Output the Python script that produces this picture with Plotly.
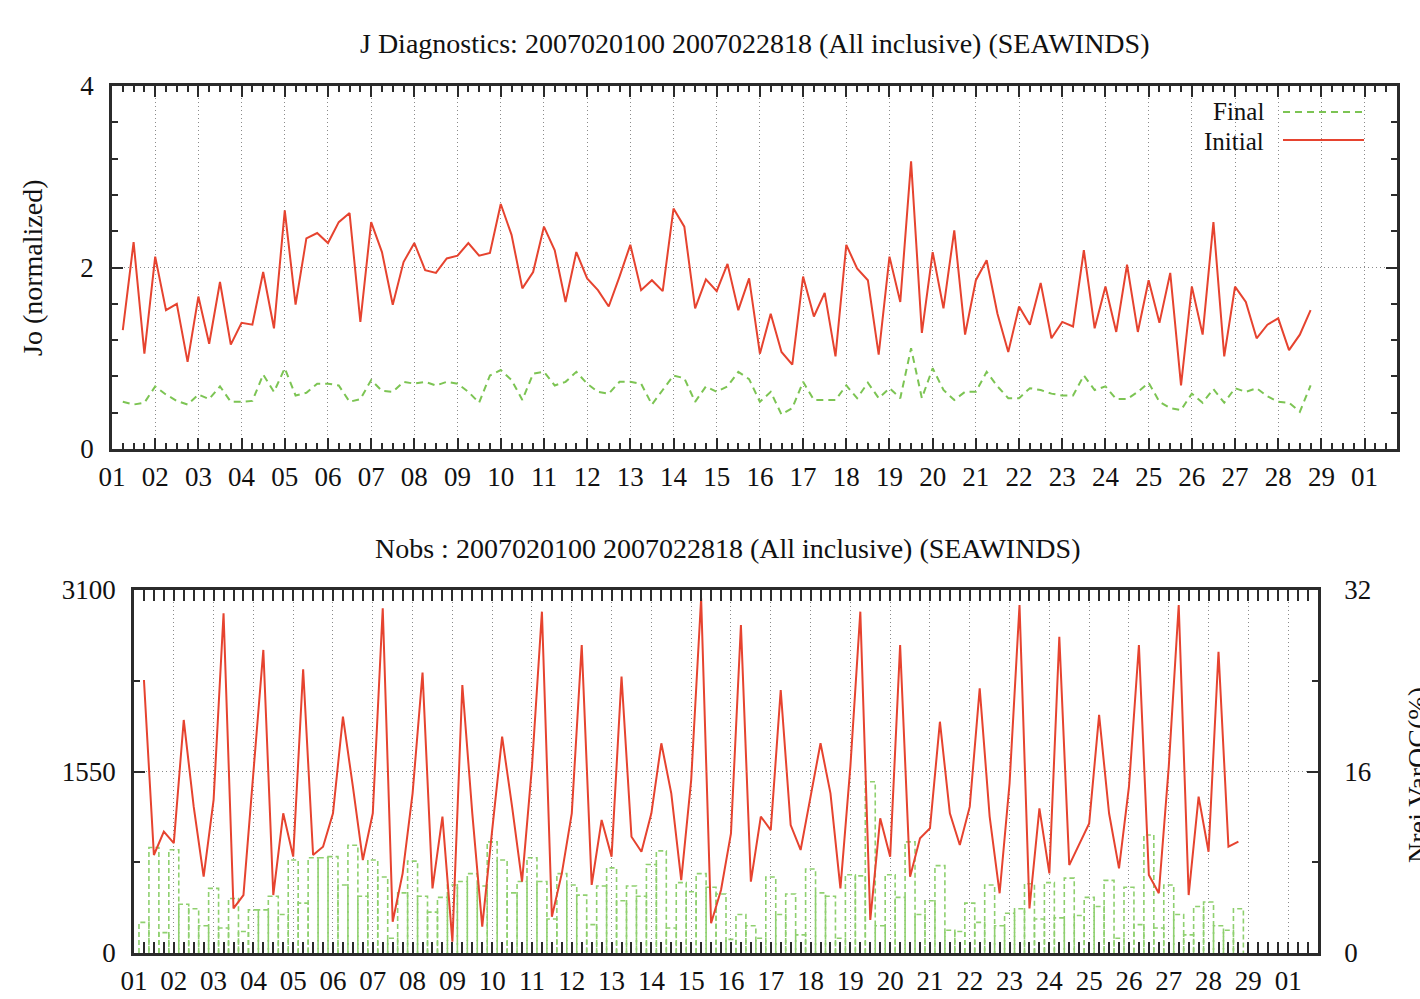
import numpy as np
import plotly.graph_objects as go

# ---------------- data ----------------
day_labels = ['01', '02', '03', '04', '05', '06', '07', '08', '09', '10',
              '11', '12', '13', '14', '15', '16', '17', '18', '19', '20',
              '21', '22', '23', '24', '25', '26', '27', '28', '29', '01']

# Jo (normalized), 6-hourly
initial = [1.31, 2.28, 1.05, 2.12, 1.53, 1.60, 0.96, 1.68, 1.16, 1.84,
           1.15, 1.39, 1.37, 1.95, 1.33, 2.63, 1.59, 2.32, 2.38, 2.27,
           2.50, 2.60, 1.40, 2.50, 2.17, 1.59, 2.06, 2.27, 1.97, 1.94,
           2.10, 2.13, 2.27, 2.13, 2.16, 2.70, 2.36, 1.77, 1.95, 2.45,
           2.19, 1.62, 2.17, 1.88, 1.75, 1.57, 1.90, 2.25, 1.75, 1.86,
           1.74, 2.65, 2.45, 1.55, 1.87, 1.74, 2.04, 1.53, 1.88, 1.05,
           1.49, 1.07, 0.93, 1.90, 1.46, 1.72, 1.02, 2.25, 1.99, 1.86,
           1.04, 2.12, 1.62, 3.17, 1.28, 2.17, 1.55, 2.41, 1.26, 1.86,
           2.08, 1.49, 1.07, 1.57, 1.37, 1.83, 1.22, 1.40, 1.35, 2.19,
           1.33, 1.79, 1.29, 2.03, 1.29, 1.86, 1.39, 1.94, 0.70, 1.79,
           1.26, 2.50, 1.02, 1.79, 1.62, 1.22, 1.37, 1.44, 1.09, 1.26, 1.53]

final = [0.52, 0.49, 0.51, 0.69, 0.60, 0.53, 0.49, 0.60, 0.55, 0.69,
         0.52, 0.52, 0.53, 0.82, 0.63, 0.89, 0.59, 0.62, 0.72, 0.72,
         0.70, 0.52, 0.55, 0.76, 0.64, 0.63, 0.74, 0.72, 0.74, 0.70,
         0.74, 0.72, 0.63, 0.51, 0.81, 0.87, 0.76, 0.54, 0.83, 0.85,
         0.70, 0.74, 0.85, 0.72, 0.63, 0.61, 0.74, 0.74, 0.72, 0.49,
         0.65, 0.81, 0.78, 0.52, 0.69, 0.63, 0.69, 0.85, 0.77, 0.52,
         0.63, 0.38, 0.45, 0.74, 0.54, 0.54, 0.54, 0.70, 0.56, 0.73,
         0.56, 0.67, 0.56, 1.11, 0.56, 0.89, 0.65, 0.54, 0.63, 0.63,
         0.85, 0.69, 0.56, 0.56, 0.67, 0.65, 0.61, 0.59, 0.59, 0.81,
         0.65, 0.69, 0.55, 0.55, 0.63, 0.73, 0.52, 0.45, 0.43, 0.61,
         0.51, 0.66, 0.51, 0.67, 0.63, 0.67, 0.58, 0.52, 0.51, 0.41, 0.70]

# Number of observations, 6-hourly
nobs = [2331, 837, 1036, 939, 1990, 1250, 652, 1307, 2901, 381,
        495, 1506, 2588, 495, 1193, 823, 2423, 837, 908, 1193,
        2018, 1420, 794, 1193, 2944, 267, 680, 1364, 2394, 552,
        1165, 97, 2289, 1193, 225, 1050, 1847, 1250, 609, 1591,
        2915, 310, 680, 1193, 2630, 581, 1136, 823, 2360, 993,
        865, 1193, 1791, 1364, 623, 1477, 3029, 254, 538, 1022,
        2801, 609, 1165, 1050, 2246, 1093, 880, 1335, 1791, 1364,
        552, 1591, 2915, 282, 1150, 823, 2630, 652, 979, 1065,
        1975, 1193, 922, 1250, 2260, 1165, 510, 1449, 2972, 381,
        1235, 680, 2701, 751, 922, 1107, 2033, 1193, 723, 1420,
        2630, 666, 510, 1591, 2972, 495, 1335, 865, 2573, 908, 951]

# Rejected by VarQC (%), 6-hourly
nrej_pct = [2.7, 9.3, 1.8, 9.1, 4.3, 3.9, 2.4, 5.7, 2.2, 4.8,
            1.9, 3.8, 3.8, 5.0, 3.4, 8.2, 4.4, 8.4, 8.4, 8.5,
            6.0, 9.5, 5.0, 8.2, 6.7, 1.3, 5.3, 8.1, 5.0, 3.6,
            4.9, 6.0, 6.3, 7.0, 5.9, 9.8, 8.2, 5.3, 6.3, 8.4,
            6.3, 3.0, 7.0, 6.0, 5.1, 2.5, 5.9, 7.5, 4.6, 5.9,
            5.0, 7.8, 9.0, 2.2, 6.2, 5.4, 7.0, 5.8, 5.2, 1.2,
            3.4, 2.4, 1.3, 6.7, 3.4, 5.2, 1.6, 7.4, 5.3, 5.0,
            1.3, 6.9, 6.8, 15.1, 2.4, 6.9, 4.9, 9.8, 3.4, 4.6,
            7.7, 2.0, 1.9, 4.4, 2.7, 6.0, 2.4, 3.5, 3.9, 6.1,
            3.0, 6.2, 3.1, 6.6, 3.3, 4.9, 4.1, 6.4, 1.3, 5.8,
            2.5, 10.4, 2.2, 6.0, 3.4, 1.6, 4.1, 4.5, 2.4, 2.0, 3.9]

# ---------------- styling ----------------
W, H = 1420, 999
RED = '#e6432f'
GREEN = '#7cc453'
BAR = '#8fd06f'
FRAME = '#2b2b2b'
GRID = '#8a8a8a'
FONT = 'Liberation Serif'


def px(x):
    return x / W


def py(y):
    return 1 - y / H


n = len(initial)
t = np.arange(1, n + 1) * 0.25  # days since first tick (6-hourly steps)
half = 0.125

fig = go.Figure()

fig.add_trace(go.Scatter(x=t, y=final, xaxis='x', yaxis='y', mode='lines',
                         line=dict(color=GREEN, width=2, dash='7px,5px'),
                         name='Final', showlegend=False))
fig.add_trace(go.Scatter(x=t, y=initial, xaxis='x', yaxis='y', mode='lines',
                         line=dict(color=RED, width=2), name='Initial',
                         showlegend=False))

# boxes (outlines) for rejected percentage
bx, by = [], []
for ti, v in zip(t, nrej_pct):
    bx += [ti - half, ti - half, ti + half, ti + half, None]
    by += [0, v, v, 0, None]
fig.add_trace(go.Scatter(x=bx, y=by, xaxis='x2', yaxis='y2', mode='lines',
                         line=dict(color=BAR, width=1.6, dash='5px,3px'),
                         name='Nrej VarQC(%)', showlegend=False))
fig.add_trace(go.Scatter(x=t, y=nobs, xaxis='x2', yaxis='y3', mode='lines',
                         line=dict(color=RED, width=2), name='Nobs',
                         showlegend=False))

tickfont = dict(family=FONT, size=27, color='#111')

common_x = dict(range=[0, 29.75], tickmode='array', tickvals=list(range(30)),
                ticktext=day_labels, ticks='inside', ticklen=11, tickwidth=2,
                tickcolor=FRAME, showline=True, linewidth=2.5, linecolor=FRAME,
                mirror='allticks', showgrid=True, gridcolor=GRID, gridwidth=1,
                griddash='1px,3px', zeroline=False, tickfont=tickfont,
                ticklabelstandoff=2, automargin=False,
                minor=dict(tick0=0, dtick=0.25, ticks='inside', ticklen=6,
                           tickwidth=1.5, tickcolor=FRAME, showgrid=False))

fig.update_layout(
    width=W, height=H, margin=dict(l=0, r=0, t=0, b=0, pad=0),
    paper_bgcolor='white', plot_bgcolor='white',
    xaxis=dict(domain=[px(112), px(1397)], anchor='y', **common_x),
    yaxis=dict(domain=[py(449), py(86)], anchor='x', range=[0, 4],
               tickmode='array', tickvals=[0, 2, 4], ticks='inside',
               ticklen=11, tickwidth=2, tickcolor=FRAME, showline=True,
               linewidth=2.5, linecolor=FRAME, mirror='allticks',
               showgrid=True, gridcolor=GRID, gridwidth=1, griddash='1px,3px',
               zeroline=False, tickfont=tickfont, ticklabelstandoff=10,
               automargin=False,
               minor=dict(tick0=0, dtick=0.4, ticks='inside', ticklen=6,
                          tickwidth=1.5, tickcolor=FRAME, showgrid=False)),
    xaxis2=dict(domain=[px(134), px(1318)], anchor='y2', **common_x),
    yaxis2=dict(domain=[py(953), py(590)], anchor='x2', side='right',
                range=[0, 32], tickmode='array', tickvals=[0, 16, 32],
                ticks='inside', ticklen=11, tickwidth=2, tickcolor=FRAME,
                showline=True, linewidth=2.5, linecolor=FRAME,
                showgrid=True, gridcolor=GRID, gridwidth=1, griddash='1px,3px',
                zeroline=False, tickfont=tickfont, ticklabelstandoff=18,
                automargin=False,
                minor=dict(tick0=0, dtick=8, ticks='inside', ticklen=6,
                           tickwidth=1.5, tickcolor=FRAME, showgrid=False)),
    yaxis3=dict(overlaying='y2', anchor='x2', side='left', range=[0, 3100],
                tickmode='array', tickvals=[0, 1550, 3100], ticks='inside',
                ticklen=11, tickwidth=2, tickcolor=FRAME, showline=True,
                linewidth=2.5, linecolor=FRAME, showgrid=False,
                zeroline=False, tickfont=tickfont, ticklabelstandoff=10,
                automargin=False,
                minor=dict(tick0=0, dtick=775, ticks='inside', ticklen=6,
                           tickwidth=1.5, tickcolor=FRAME, showgrid=False)),
)

title_font = dict(family=FONT, size=28, color='#111')
legend_font = dict(family=FONT, size=25, color='#111')
annotations = [
    dict(text='J Diagnostics: 2007020100 2007022818 (All inclusive) (SEAWINDS)',
         x=px(755), y=py(43), xref='paper', yref='paper', showarrow=False,
         xanchor='center', yanchor='middle', font=title_font),
    dict(text='Nobs : 2007020100 2007022818 (All inclusive) (SEAWINDS)',
         x=px(727), y=py(548), xref='paper', yref='paper', showarrow=False,
         xanchor='center', yanchor='middle', font=title_font),
    dict(text='Jo (normalized)', x=px(33), y=py(268), xref='paper',
         yref='paper', showarrow=False, textangle=-90, xanchor='center',
         yanchor='middle', font=title_font),
    dict(text='Nrej VarQC(%)', x=px(1417), y=py(775), xref='paper',
         yref='paper', showarrow=False, textangle=-90, xanchor='center',
         yanchor='middle', font=title_font),
    dict(text='Final', x=px(1266), y=py(111), xref='paper', yref='paper',
         showarrow=False, xanchor='right', yanchor='middle', font=legend_font),
    dict(text='Initial', x=px(1266), y=py(141), xref='paper', yref='paper',
         showarrow=False, xanchor='right', yanchor='middle', font=legend_font),
]
shapes = [
    dict(type='line', xref='paper', yref='paper', x0=px(1283), x1=px(1364),
         y0=py(112), y1=py(112), line=dict(color=GREEN, width=2, dash='7px,5px')),
    dict(type='line', xref='paper', yref='paper', x0=px(1283), x1=px(1364),
         y0=py(140), y1=py(140), line=dict(color=RED, width=2)),
]
fig.update_layout(annotations=annotations, shapes=shapes)

fig.write_html("out.html", config={'displayModeBar': False},
               post_script="document.body.style.margin='0';")
